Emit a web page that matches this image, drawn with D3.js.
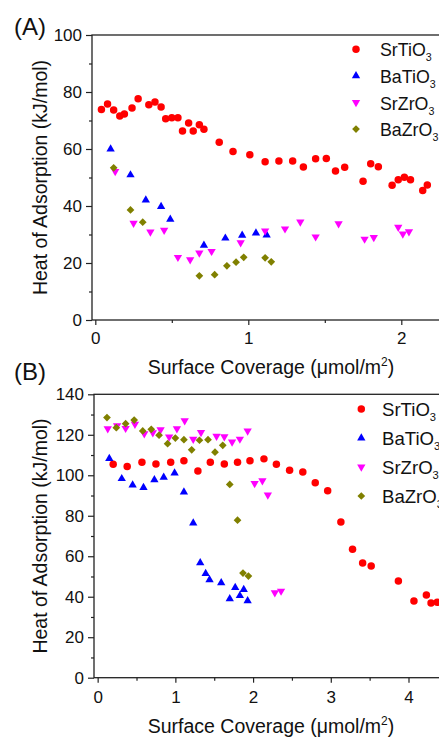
<!DOCTYPE html>
<html>
<head>
<meta charset="utf-8">
<script src="https://cdn.jsdelivr.net/npm/d3@7"></script>
<style>
  html, body { margin: 0; padding: 0; background: #fff; }
  svg { display: block; }
  text { font-family: "Liberation Sans", Arial, Helvetica, sans-serif; fill: #111; }
</style>
</head>
<body>
<svg id="chart" width="439" height="737"></svg>
<script>
// ---- Panel A: heat of adsorption vs surface coverage ----
const seriesNames = ["SrTiO", "BaTiO", "SrZrO", "BaZrO"];
const seriesColors = ["#ff0000", "#0000ff", "#ff00ff", "#808000"];

const aSrTiO3Cov  = [0.04,0.08,0.12,0.16,0.19,0.24,0.28,0.35,0.39,0.43,0.46,0.50,0.54,0.57,0.61,0.64,0.68,0.71,0.81,0.90,1.01,1.11,1.20,1.29,1.36,1.44,1.51,1.57,1.63,1.75,1.80,1.85,1.94,1.98,2.02,2.06,2.14,2.17];
const aSrTiO3Heat = [73.9,75.8,73.7,71.6,72.3,74.4,77.6,75.5,76.5,74.7,70.6,71.0,71.0,66.3,69.1,66.3,68.5,66.9,62.4,59.1,58.0,55.5,55.8,55.8,53.7,56.6,56.7,52.3,53.6,48.7,54.8,53.8,47.3,49.2,50.1,49.2,45.4,47.4];
const aBaTiO3Cov  = [0.10,0.23,0.33,0.43,0.49,0.71,0.85,0.96,1.05,1.12];
const aBaTiO3Heat = [60.0,50.9,42.1,39.8,35.3,26.2,28.7,29.7,30.5,29.8];
const aSrZrO3Cov  = [0.13,0.25,0.36,0.45,0.54,0.62,0.68,0.76,0.95,1.11,1.24,1.34,1.44,1.59,1.76,1.82,1.98,2.01,2.05];
const aSrZrO3Heat = [52.1,34.0,30.9,31.5,22.0,21.2,23.5,24.1,27.1,31.3,32.0,34.4,29.2,33.8,28.4,29.0,32.6,30.2,31.0];
const aBaZrO3Cov  = [0.12,0.23,0.31,0.68,0.78,0.86,0.92,0.97,1.11,1.15];
const aBaZrO3Heat = [53.4,38.6,34.3,15.5,15.9,19.0,20.3,22.0,21.8,20.4];
const aXTicks = [0, 1, 2];
const aXMinor = [0.5, 1.5];
const aYTicks = [0, 20, 40, 60, 80, 100];
const aYMinor = [10, 30, 50, 70, 90];

// ---- Panel B ----
const bSrTiO3Cov  = [0.20,0.38,0.57,0.75,0.94,1.11,1.29,1.45,1.63,1.80,1.96,2.14,2.30,2.47,2.64,2.80,2.96,3.13,3.28,3.41,3.52,3.87,4.07,4.23,4.29,4.37];
const bSrTiO3Heat = [105.4,104.3,106.4,105.6,106.4,107.2,102.1,106.4,105.6,106.4,107.2,108.1,105.4,102.5,101.6,96.3,92.4,76.9,63.4,56.7,55.2,47.8,37.9,40.9,36.9,37.3];
const bBaTiO3Cov  = [0.15,0.31,0.45,0.59,0.73,0.85,0.99,1.11,1.23,1.32,1.39,1.44,1.59,1.70,1.77,1.83,1.88,1.93];
const bBaTiO3Heat = [108.2,98.3,95.2,93.9,97.8,99.0,101.1,91.7,76.4,56.7,51.4,48.3,46.9,39.0,44.5,40.5,43.5,38.0];
const bSrZrO3Cov  = [0.13,0.25,0.36,0.48,0.60,0.71,0.81,0.92,1.02,1.12,1.23,1.33,1.53,1.63,1.73,1.83,1.93,2.02,2.12,2.19,2.28,2.36];
const bSrZrO3Heat = [123.0,124.5,123.2,125.2,120.6,121.0,122.5,118.9,123.0,127.0,117.8,121.2,119.3,119.1,116.5,117.9,121.9,96.0,97.3,90.3,42.0,42.8];
const bBaZrO3Cov  = [0.12,0.24,0.36,0.47,0.58,0.69,0.79,0.90,1.00,1.11,1.21,1.31,1.42,1.51,1.61,1.70,1.80,1.87,1.94];
const bBaZrO3Heat = [128.5,123.5,125.5,127.3,121.9,122.7,119.8,115.6,118.4,117.6,112.6,117.3,117.6,111.4,114.8,95.5,77.8,51.7,50.2];
const bXTicks = [0, 1, 2, 3, 4];
const bXMinor = [0.5, 1.5, 2.5, 3.5];
const bYTicks = [0, 20, 40, 60, 80, 100, 120, 140];
const bYMinor = [10, 30, 50, 70, 90, 110, 130];

const svg = d3.select("#chart");

const symbolTypes = [
  { type: d3.symbolCircle,   size: 44, rotate: 0 },
  { type: d3.symbolTriangle, size: 30, rotate: 0 },
  { type: d3.symbolTriangle, size: 30, rotate: 180 },
  { type: d3.symbolSquare,   size: 30, rotate: 45 }
];

function drawPanel(cfg) {
  const g = svg.append("g");
  const x = d3.scaleLinear().domain(cfg.xDomain).range(cfg.xRange);
  const y = d3.scaleLinear().domain(cfg.yDomain).range(cfg.yRange);
  const [x0, x1] = cfg.xRange;
  const [yb, yt] = cfg.yRange;

  // frame (right edge runs past the page)
  g.append("rect")
    .attr("x", x0).attr("y", yt)
    .attr("width", x1 - x0).attr("height", yb - yt)
    .attr("fill", "none").attr("stroke", "#222").attr("stroke-width", 1.3);

  // minor ticks
  g.append("g").attr("transform", `translate(0,${yb})`)
    .call(d3.axisBottom(x).tickValues(cfg.xMinor).tickSize(3).tickSizeOuter(0).tickFormat(""))
    .call(a => a.select(".domain").remove())
    .call(a => a.selectAll("line").attr("stroke", "#222").attr("stroke-width", 1.2));
  g.append("g").attr("transform", `translate(${x0},0)`)
    .call(d3.axisLeft(y).tickValues(cfg.yMinor).tickSize(3).tickSizeOuter(0).tickFormat(""))
    .call(a => a.select(".domain").remove())
    .call(a => a.selectAll("line").attr("stroke", "#222").attr("stroke-width", 1.2));

  // major ticks with labels
  g.append("g").attr("transform", `translate(0,${yb})`)
    .call(d3.axisBottom(x).tickValues(cfg.xTicks).tickSize(5).tickSizeOuter(0)
      .tickPadding(cfg.xPad).tickFormat(d3.format("d")))
    .call(a => a.select(".domain").remove())
    .call(a => a.selectAll("line").attr("stroke", "#222").attr("stroke-width", 1.2))
    .call(a => a.selectAll("text").attr("font-size", 17).attr("fill", "#111")
      .attr("font-family", "Liberation Sans, Arial, sans-serif"));
  g.append("g").attr("transform", `translate(${x0},0)`)
    .call(d3.axisLeft(y).tickValues(cfg.yTicks).tickSize(6).tickSizeOuter(0)
      .tickPadding(4).tickFormat(d3.format("d")))
    .call(a => a.select(".domain").remove())
    .call(a => a.selectAll("line").attr("stroke", "#222").attr("stroke-width", 1.2))
    .call(a => a.selectAll("text").attr("font-size", 17).attr("fill", "#111")
      .attr("font-family", "Liberation Sans, Arial, sans-serif"));

  // data markers
  cfg.series.forEach((s, i) => {
    const sym = symbolTypes[i];
    const pts = s.cov.map((c, k) => [c, s.heat[k]]);
    g.append("g").selectAll("path").data(pts).join("path")
      .attr("d", d3.symbol().type(sym.type).size(sym.size))
      .attr("transform", d => `translate(${x(d[0])},${y(d[1])}) rotate(${sym.rotate})`)
      .attr("fill", seriesColors[i]);
  });

  // legend
  const lg = g.append("g");
  seriesNames.forEach((name, i) => {
    const sym = symbolTypes[i];
    const ly = cfg.legend.y0 + i * cfg.legend.dy;
    lg.append("path")
      .attr("d", d3.symbol().type(sym.type).size(sym.size))
      .attr("transform", `translate(${cfg.legend.mx},${ly}) rotate(${sym.rotate})`)
      .attr("fill", seriesColors[i]);
    const t = lg.append("text")
      .attr("x", cfg.legend.tx).attr("y", ly + 7)
      .attr("font-size", cfg.legend.fs);
    t.append("tspan").text(name);
    t.append("tspan").text("3").attr("font-size", cfg.legend.fs * 0.6).attr("dy", 5);
  });

  // panel letter
  g.append("text").attr("x", 14).attr("y", cfg.letterY)
    .attr("font-size", 24).text(cfg.letter);

  // axis titles
  const xt = g.append("text")
    .attr("x", 271).attr("y", cfg.xTitleY)
    .attr("text-anchor", "middle").attr("font-size", 19.5);
  xt.append("tspan").text("Surface Coverage (μmol/m");
  xt.append("tspan").text("2").attr("font-size", 12).attr("dy", -8);
  xt.append("tspan").text(")").attr("dy", 8);

  g.append("text")
    .attr("transform", `translate(47,${(yb + yt) / 2}) rotate(-90)`)
    .attr("text-anchor", "middle").attr("font-size", 19.5)
    .text("Heat of Adsorption (kJ/mol)");
}

drawPanel({
  letter: "(A)", letterY: 35,
  xDomain: [-0.0216, 2.3], xRange: [92, 95.3 + 2.3 * 153],
  yDomain: [0, 100], yRange: [320, 35],
  xTicks: aXTicks, xMinor: aXMinor, yTicks: aYTicks, yMinor: aYMinor,
  xPad: 7, xTitleY: 374,
  series: [
    { cov: aSrTiO3Cov, heat: aSrTiO3Heat },
    { cov: aBaTiO3Cov, heat: aBaTiO3Heat },
    { cov: aSrZrO3Cov, heat: aSrZrO3Heat },
    { cov: aBaZrO3Cov, heat: aBaZrO3Heat }
  ],
  legend: { mx: 356, tx: 380, y0: 49.3, dy: 26.6, fs: 17.8 }
});

drawPanel({
  letter: "(B)", letterY: 380,
  xDomain: [-0.047, 4.5], xRange: [94, 97.7 + 4.5 * 77.7],
  yDomain: [0, 140], yRange: [677.7, 394.3],
  xTicks: bXTicks, xMinor: bXMinor, yTicks: bYTicks, yMinor: bYMinor,
  xPad: 8, xTitleY: 733,
  series: [
    { cov: bSrTiO3Cov, heat: bSrTiO3Heat },
    { cov: bBaTiO3Cov, heat: bBaTiO3Heat },
    { cov: bSrZrO3Cov, heat: bSrZrO3Heat },
    { cov: bBaZrO3Cov, heat: bBaZrO3Heat }
  ],
  legend: { mx: 361.3, tx: 382, y0: 409, dy: 29, fs: 18.6 }
});
</script>
</body>
</html>
